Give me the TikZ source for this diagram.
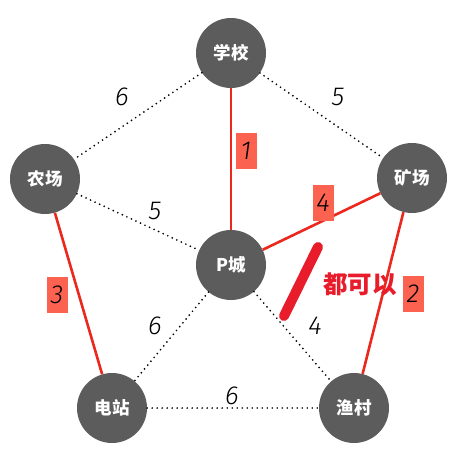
\documentclass[tikz,border=0pt]{standalone}
\usepackage{fontspec}
\newfontfamily\cjk{Noto Sans CJK SC}
\newfontfamily\numfont{Fira Sans Light Italic}
\definecolor{nodegray}{RGB}{92,92,92}
\definecolor{pathred}{RGB}{236,40,30}
\definecolor{boxred}{RGB}{252,98,80}
\definecolor{markred}{RGB}{232,28,42}
\tikzset{
  city/.style={circle,fill=nodegray,minimum size=70pt,inner sep=0pt,text=white,font=\cjk\bfseries\fontsize{17.5}{17.5}\selectfont},
  road/.style={line width=1.9pt,dash pattern=on 0pt off 5pt,line cap=round},
  chosen/.style={draw=pathred,line width=2.6pt},
  wnum/.style={font=\numfont\fontsize{26}{26}\selectfont,inner sep=0pt},
  bnum/.style={fill=boxred,font=\numfont\fontsize{26}{26}\selectfont,inner sep=0pt,minimum width=21pt,minimum height=36pt}
}
\begin{document}
\begin{tikzpicture}[x=1pt,y=-1pt]
\useasboundingbox[fill=white] (0,0) rectangle (470,454);
\node[city] (school) at (231,53) {学校};
\node[city] (farm) at (45,179) {农场};
\node[city] (mine) at (412,178) {矿场};
\node[city] (p) at (231,265) {P城};
\node[city] (power) at (112,408) {电站};
\node[city] (fish) at (354,408) {渔村};
% dotted roads
\draw[road] (school) -- (farm);
\draw[road] (school) -- (mine);
\draw[road] (farm) -- (p);
\draw[road] (p) -- (power);
\draw[road] (p) -- (fish);
\draw[road] (power) -- (fish);
% chosen roads
\draw[chosen] (school) -- (p);
\draw[chosen] (farm) -- (power);
\draw[chosen] (p) -- (mine);
\draw[chosen] (mine) -- (fish);
% weights
\node[wnum] (w1) at (122,97) {6};
\node[wnum] (w2) at (338,97) {5};
\node[wnum] (w3) at (155,211) {5};
\node[wnum] (w4) at (155,326) {6};
\node[wnum] (w5) at (315,326) {4};
\node[wnum] (w6) at (232,396) {6};
\node[bnum] (b1) at (246,151) {1};
\node[bnum] (b2) at (323,203) {4};
\node[bnum] (b3) at (57,295) {3};
\node[bnum] (b4) at (413,294) {2};
% mark
\coordinate (m1) at (318,247);
\coordinate (m2) at (284,316);
\draw[markred,line width=10pt,line cap=round] (m1) -- (m2);
\node[text=markred,font=\cjk\bfseries\fontsize{24.5}{24.5}\selectfont,inner sep=0pt] (either) at (360,284) {都可以};
\end{tikzpicture}
\end{document}
